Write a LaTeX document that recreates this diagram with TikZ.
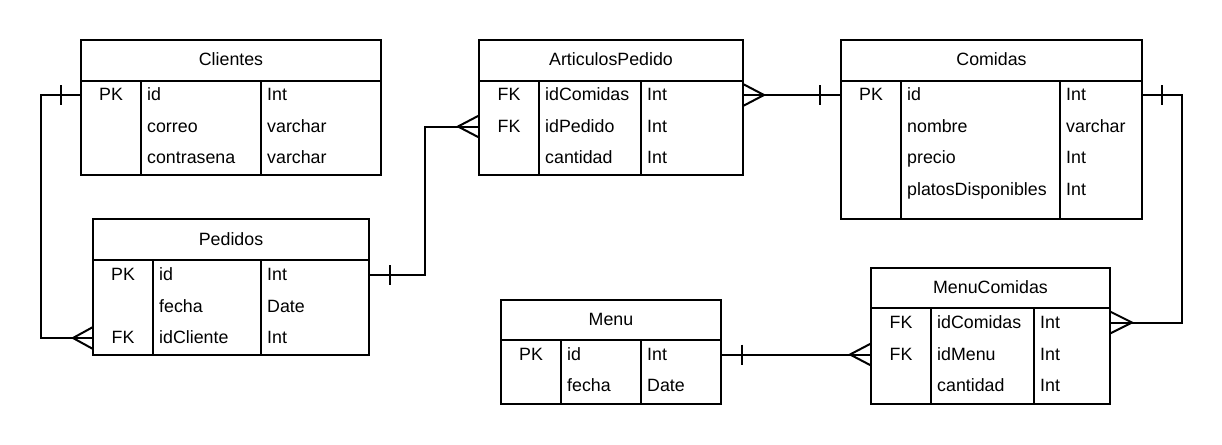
\documentclass[tikz,border=0pt]{standalone}
\usepackage{fontspec}
\setmainfont{Liberation Sans}
\usetikzlibrary{fit}
\tikzset{
  tabline/.style={line width=2pt, black},
  conn/.style={line width=2pt, black},
  tabbox/.style={draw, line width=2pt, inner sep=0pt, outer sep=0pt, rectangle},
  txt/.style={inner sep=0pt, font=\fontsize{17.8}{20}\selectfont, anchor=mid, yshift=-3pt},
}
% #1 name, #2 left, #3 top, #4 right, #5 bottom, #6 header y, #7 div1, #8 div2, #9 title
\newcommand\ertab[9]{%
  \node[tabbox, fit={(#2,#3) (#4,#5)}] (#1) {};
  \draw[tabline] (#2,#6) -- (#4,#6);
  \draw[tabline] (#7,#6) -- (#7,#5);
  \draw[tabline] (#8,#6) -- (#8,#5);
  \node[txt] (#1-title) at ({(#2+#4)/2},{(#3+#6)/2}) {#9};
}
% #1 row name, #2 y, #3 key centre x, #4 name x, #5 type x, #6 key, #7 name, #8 type
\newcommand\errow[8]{%
  \coordinate (#1) at (0,#2);
  \node[txt] (#1-k) at (#3,#2) {#6};
  \node[txt, anchor=mid west] (#1-n) at (#4,#2) {#7};
  \node[txt, anchor=mid west] (#1-t) at (#5,#2) {#8};
}
\newcommand\onetick[2]{\draw[conn] ([xshift=#2]#1) ++(0,-10) -- ++(0,20);}
\newcommand\crowfoot[2]{\draw[conn] ([yshift=11pt]#1) -- ([xshift=#2]#1) -- ([yshift=-11pt]#1);}
\begin{document}
\begin{tikzpicture}[x=1pt,y=-1pt]
\useasboundingbox (0,0) rectangle (1222,444);

% Clientes
\ertab{cli}{81}{40}{381}{175}{80.7}{141}{261}{Clientes}
\errow{cli1}{95}{111}{147}{267}{PK}{id}{Int}
\errow{cli2}{126.5}{111}{147}{267}{}{correo}{varchar}
\errow{cli3}{158}{111}{147}{267}{}{contrasena}{varchar}

% Pedidos
\ertab{ped}{93}{219}{369}{355}{260}{153}{261}{Pedidos}
\errow{ped1}{275}{123}{159}{267}{PK}{id}{Int}
\errow{ped2}{306.5}{123}{159}{267}{}{fecha}{Date}
\errow{ped3}{338}{123}{159}{267}{FK}{idCliente}{Int}

% ArticulosPedido
\ertab{art}{479}{40}{743}{175}{80.7}{539}{641}{ArticulosPedido}
\errow{art1}{95}{509}{545}{647}{FK}{idComidas}{Int}
\errow{art2}{126.5}{509}{545}{647}{FK}{idPedido}{Int}
\errow{art3}{158}{509}{545}{647}{}{cantidad}{Int}

% Comidas
\ertab{com}{841}{40}{1142}{219}{80.7}{901}{1060}{Comidas}
\errow{com1}{95}{871}{907}{1066}{PK}{id}{Int}
\errow{com2}{126.5}{871}{907}{1066}{}{nombre}{varchar}
\errow{com3}{158}{871}{907}{1066}{}{precio}{Int}
\errow{com4}{189.5}{871}{907}{1066}{}{platosDisponibles}{Int}

% Menu
\ertab{menu}{501}{300}{721}{404}{340}{561}{641}{Menu}
\errow{menu1}{354.5}{531}{567}{647}{PK}{id}{Int}
\errow{menu2}{386}{531}{567}{647}{}{fecha}{Date}

% MenuComidas
\ertab{mc}{871}{268}{1110}{404}{308}{931}{1034}{MenuComidas}
\errow{mc1}{322.5}{901}{937}{1040}{FK}{idComidas}{Int}
\errow{mc2}{354.5}{901}{937}{1040}{FK}{idMenu}{Int}
\errow{mc3}{386}{901}{937}{1040}{}{cantidad}{Int}

% connector end points
\coordinate (e1a) at (cli.west |- cli1);
\coordinate (e1b) at (ped.west |- ped3);
\coordinate (e2a) at (ped.east |- ped1);
\coordinate (e2b) at (art.west |- art2);
\coordinate (e3a) at (art.east |- art1);
\coordinate (e3b) at (com.west |- com1);
\coordinate (e4a) at (com.east |- com1);
\coordinate (e4b) at (mc.east |- mc1);
\coordinate (e5a) at (menu.east |- menu1);
\coordinate (e5b) at (mc.west |- mc2);

% Clientes -- Pedidos
\draw[conn] (e1a) -- ++(-40,0) |- (e1b);
\onetick{e1a}{-20pt}
\crowfoot{e1b}{-20pt}

% Pedidos -- ArticulosPedido
\draw[conn] (e2a) -- ++(56,0) |- (e2b);
\onetick{e2a}{21pt}
\crowfoot{e2b}{-21pt}

% ArticulosPedido -- Comidas
\draw[conn] (e3a) -- (e3b);
\crowfoot{e3a}{21pt}
\onetick{e3b}{-21pt}

% Comidas -- MenuComidas
\draw[conn] (e4a) -- ++(40,0) |- (e4b);
\onetick{e4a}{20pt}
\crowfoot{e4b}{22pt}

% Menu -- MenuComidas
\draw[conn] (e5a) -- (e5b);
\onetick{e5a}{21pt}
\crowfoot{e5b}{-21pt}
\end{tikzpicture}
\end{document}
